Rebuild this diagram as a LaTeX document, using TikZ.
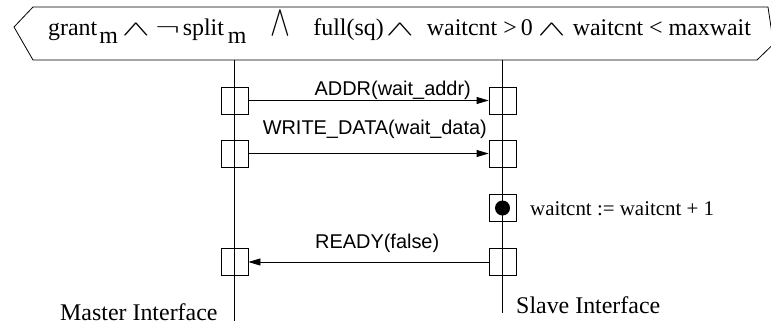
\documentclass[tikz,border=0pt]{standalone}
\usepackage{fontspec}
\setmainfont{Liberation Serif}
\setsansfont{Liberation Sans}
\usetikzlibrary{arrows.meta}

% lowered index, the logic signs and the gaps of the guard
\newcommand{\lowm}{\raisebox{-9pt}{m}}
\newcommand{\gand}{\scalebox{1.7}[0.85]{$\wedge$}}
\newcommand{\gbigand}{\scalebox{1.2}[1.75]{$\wedge$}}
\newcommand{\gnot}{\scalebox{1.5}[1]{$\neg$}}
\newcommand{\gap}[1]{\hspace{#1bp}}

\begin{document}
\begin{tikzpicture}[x=1bp, y=-1bp,
		box/.style={draw=black, line width=0.8bp, minimum size=27bp, inner sep=0pt},
		life/.style={line width=0.8bp},
		msg/.style={line width=0.8bp, -{Triangle[length=12bp, width=7bp]}},
		sig/.style={font=\fontsize{20}{22}\sffamily, inner sep=0pt},
		txt/.style={font=\fontsize{22}{24}\selectfont, inner sep=0pt}
	]
	\useasboundingbox (0,0) rectangle (771,325);

	% guard
	\draw[line width=0.8bp] (33,7) -- (768,7) -- (773.5,44) -- (757,60) -- (33,60) -- (14,27) -- cycle;
	\node[txt, anchor=base west, font=\fontsize{24}{26}\selectfont] (cond) at (48,35)
		{grant\gap{2}\lowm\gap{4}\gand\gap{5}\gnot\gap{3}split\gap{4}\lowm\gap{24}\gbigand\gap{23}%
		full(sq)\gap{2}\gand\gap{13}waitcnt\gap{6}>\gap{4}0\gap{5}\gand\gap{7}waitcnt\gap{6}<\gap{6}maxwait};

	% lifelines
	\coordinate (mtop) at (234.5,60);
	\coordinate (mbot) at (234.5,321);
	\coordinate (stop) at (502.5,60);
	\coordinate (sbot) at (502.5,313);
	\draw[life] (mtop) -- (mbot);
	\draw[life] (stop) -- (sbot);

	% master side
	\node[box] (m1) at (234.5,100.5) {};
	\node[box] (m2) at (234.5,153.5) {};
	\node[box] (m4) at (234.5,262) {};

	% slave side
	\node[box] (s1) at (502.5,100.5) {};
	\node[box] (s2) at (502.5,153.5) {};
	\node[box] (s3) at (502.5,208) {};
	\node[box] (s4) at (502.5,262) {};
	\fill (s3) circle (7.5bp);

	% messages
	\draw[msg] (m1) -- (s1);
	\draw[msg] (m2) -- (s2);
	\draw[msg] (s4) -- (m4);
	\node[sig, anchor=base east] (addr) at (471,95) {ADDR(wait\_addr)};
	\node[sig, anchor=base east] (wdata) at (487,134) {WRITE\_DATA(wait\_data)};
	\node[sig, anchor=base west] (ready) at (315,248) {READY(false)};

	% action and names
	\node[txt, anchor=base west, font=\fontsize{21}{23}\selectfont] (act) at (530,215) {waitcnt := waitcnt + 1};
	\node[txt, anchor=base west, font=\fontsize{24}{26}\selectfont] (mname) at (60,320) {Master Interface};
	\node[txt, anchor=base west, font=\fontsize{24}{26}\selectfont] (sname) at (516,313) {Slave Interface};
\end{tikzpicture}
\end{document}
